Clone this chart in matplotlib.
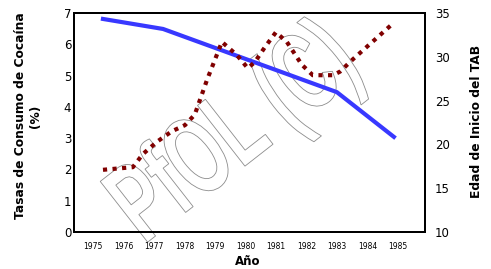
import matplotlib
matplotlib.use("Agg")
import matplotlib.pyplot as plt
from matplotlib.textpath import TextPath
from matplotlib.patches import PathPatch
from matplotlib.transforms import Affine2D, IdentityTransform
from matplotlib.font_manager import FontProperties

# tasa de consumo de cocaina (eje izquierdo)
anios_coca = [1975.33, 1977.3, 1983.0, 1984.87]
tasa_coca = [6.81, 6.49, 4.47, 3.04]

# edad de inicio del TAB (eje derecho)
anios_tab = [1975.33, 1976.31, 1976.64, 1977.1, 1977.59, 1978.02, 1978.34, 1978.74,
             1979.23, 1979.72, 1980.08, 1980.31, 1980.64, 1981.0, 1981.36, 1981.85,
             1982.21, 1982.87, 1983.1, 1983.52, 1984.87]
edad_tab = [17.1, 17.4, 18.9, 20.3, 21.5, 22.2, 23.4, 27.35,
            31.7, 30.2, 28.7, 29.4, 31.1, 32.8, 31.7, 29.1,
            27.9, 27.9, 28.3, 29.7, 33.9]

anios_ticks = list(range(1975, 1986))

fig = plt.figure(figsize=(4.91, 2.69), dpi=100)
ax = fig.add_axes([74/491, 37/269, 351/491, 219/269])
ax2 = ax.twinx()

ax.plot(anios_coca, tasa_coca, color='#3838ff', lw=3, solid_joinstyle='miter', zorder=3)
ax2.plot(anios_tab, edad_tab, color='#800000', lw=3, linestyle=(0, (1, 1.3)),
         dash_capstyle='butt', zorder=3)

ax.set_xlim(1974.38, 1985.89)
ax.set_ylim(0, 7)
ax2.set_ylim(10, 35)
ax.set_xticks(anios_ticks)
ax.set_xticklabels([str(a) for a in anios_ticks], fontsize=5.5)
ax.set_yticks(range(0, 8))
ax2.set_yticks(range(10, 36, 5))
ax.tick_params(axis='x', length=0, pad=7)
ax.tick_params(axis='y', length=0, pad=2, labelsize=8.5)
ax2.tick_params(axis='y', length=0, pad=7, labelsize=8.5)

for a in (ax, ax2):
    for s in a.spines.values():
        s.set_linewidth(1.4)
        s.set_color('black')

ax.set_xlabel('Año', fontsize=8.5, fontweight='bold')
ax.xaxis.set_label_coords(0.495, -0.105)
ax.set_ylabel('Tasas de Consumo de Cocaína\n(%)', fontsize=8.8, fontweight='bold',
              linespacing=1.25)
ax.yaxis.set_label_coords(-0.09, 0.53)
ax2.set_ylabel('Edad de Inicio del TAB', fontsize=8.8, fontweight='bold')
ax2.yaxis.set_label_coords(1.128, 0.507)

# marca de agua
tp = TextPath((0, 0), "PfOL (C)", size=112,
              prop=FontProperties(family='Liberation Sans', weight='bold'))
tr = Affine2D().scale(0.62, 1).rotate_deg(38).translate(144, 24)
wm = PathPatch(tr.transform_path(tp), facecolor='none', edgecolor='#8c8c8c', lw=0.6,
               transform=IdentityTransform(), clip_on=False, zorder=1.5)
ax.add_artist(wm)

fig.savefig('out.png', dpi=100)
